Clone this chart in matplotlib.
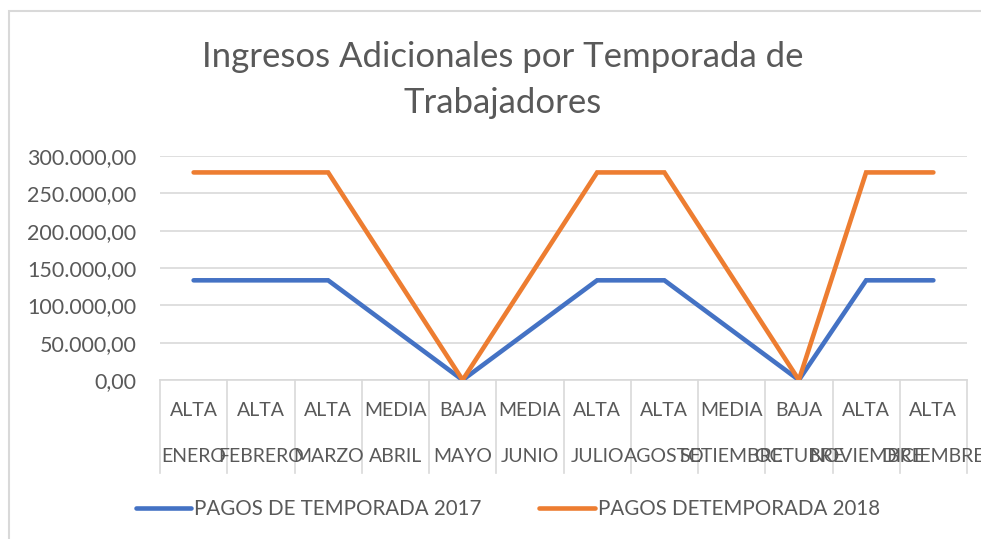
import matplotlib.pyplot as plt
from matplotlib.ticker import FuncFormatter
from matplotlib.patches import Rectangle

# Datos
meses = ['ENERO', 'FEBRERO', 'MARZO', 'ABRIL', 'MAYO', 'JUNIO', 'JULIO',
         'AGOSTO', 'SETIEMBRE', 'OCTUBRE', 'NOVIEMBRE', 'DICIEMBRE']
temporadas = ['ALTA', 'ALTA', 'ALTA', 'MEDIA', 'BAJA', 'MEDIA', 'ALTA',
              'ALTA', 'MEDIA', 'BAJA', 'ALTA', 'ALTA']
pagos_2017 = [133500, 133500, 133500, 66750, 0, 66750, 133500,
              133500, 66750, 0, 133500, 133500]
pagos_2018 = [278000, 278000, 278000, 139000, 0, 139000, 278000,
              278000, 139000, 0, 278000, 278000]

gris_texto = '#595959'
gris_linea = '#d9d9d9'
fuente = 'Lato'

plt.rcParams['font.family'] = fuente

fig = plt.figure(figsize=(9.81, 5.39), dpi=100)
ax = fig.add_axes([160 / 981, 159 / 539, 807 / 981, 224 / 539])

x = range(len(meses))
ax.plot(x, pagos_2017, color='#4472C4', lw=3.3, solid_capstyle='round',
        solid_joinstyle='miter', label='PAGOS DE TEMPORADA 2017', zorder=3)
ax.plot(x, pagos_2018, color='#ED7D31', lw=3.3, solid_capstyle='round',
        solid_joinstyle='miter', label='PAGOS DETEMPORADA 2018', zorder=3)

ax.set_xlim(-0.5, len(meses) - 0.5)
ax.set_ylim(0, 300000)
ax.set_yticks(range(0, 300001, 50000))
ax.yaxis.set_major_formatter(FuncFormatter(
    lambda v, p: f'{v:,.2f}'.replace(',', '#').replace('.', ',').replace('#', '.')))
ax.tick_params(axis='y', length=0, pad=17, labelsize=15.5, labelcolor=gris_texto)
ax.set_xticks([])
ax.grid(True, axis='y', color=gris_linea, lw=1.2)
ax.set_axisbelow(True)
for s in ['top', 'right', 'left']:
    ax.spines[s].set_visible(False)
ax.spines['bottom'].set_color(gris_linea)
ax.spines['bottom'].set_linewidth(1.2)

# eje de categorias de dos niveles
trans = ax.get_xaxis_transform()
for i in range(len(meses) + 1):
    ax.plot([i - 0.5, i - 0.5], [0, -93 / 224], color=gris_linea, lw=1.2,
            transform=trans, clip_on=False)
for i, (t, m) in enumerate(zip(temporadas, meses)):
    ax.text(i, -30 / 224, t, transform=trans, ha='center', va='center',
            fontsize=14, color=gris_texto)
    ax.text(i, -77 / 224, m, transform=trans, ha='center', va='center',
            fontsize=14, color=gris_texto)

fig.text(503 / 981, 1 - 80 / 539,
         'Ingresos Adicionales por Temporada de\nTrabajadores',
         ha='center', va='center', fontsize=25, color=gris_texto,
         linespacing=1.55)

# borde del area del grafico
fig.patches.append(Rectangle((9 / 981, -0.1), 1.2, 1 - 11 / 539 + 0.1,
                             transform=fig.transFigure, fill=False,
                             edgecolor=gris_linea, lw=1.5))

fig.legend(loc='center', bbox_to_anchor=(508 / 981, 1 - 509 / 539), ncol=2,
           frameon=False, fontsize=14.8, handlelength=2.7, columnspacing=2.8,
           handletextpad=0.15, labelcolor=gris_texto)

fig.savefig('out.png', dpi=100)
